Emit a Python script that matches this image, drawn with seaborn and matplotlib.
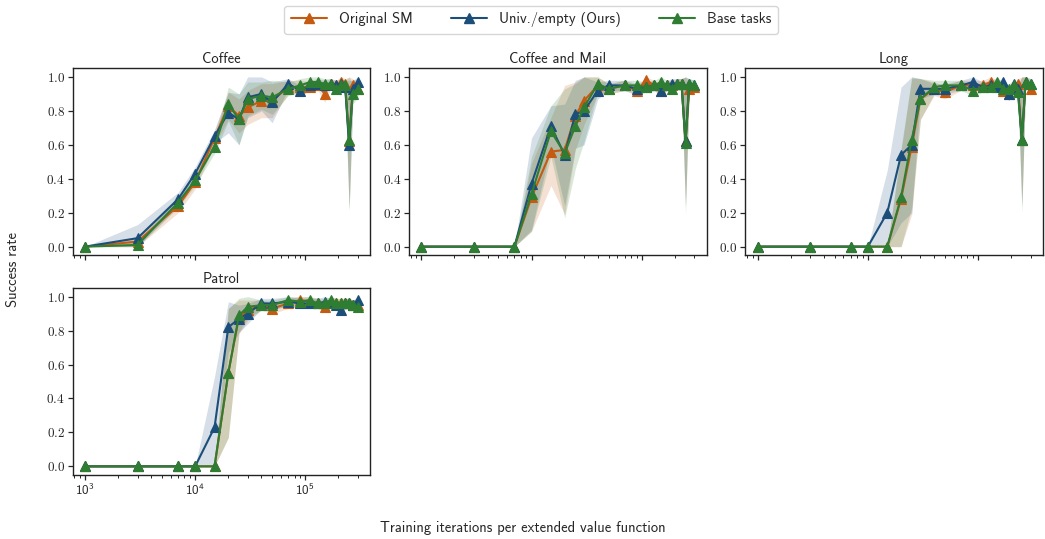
import numpy as np
import pandas as pd
import matplotlib
matplotlib.use("Agg")
import matplotlib.pyplot as plt
import seaborn as sns
from matplotlib.lines import Line2D

# ---------------- data ----------------
iters = [1000, 3000, 7000, 10000, 15000, 20000, 25000, 30000, 40000, 50000, 70000,
         90000, 110000, 130000, 150000, 170000, 190000, 210000, 230000, 250000, 270000, 300000]

methods = ["Original SM", "Univ./empty (Ours)", "Base tasks"]
panels = ["Coffee", "Coffee and Mail", "Long", "Patrol"]

# mean success rates
coffee_orig = [0, .03, .24, .38, .64, .83, .77, .82, .86, .86, .94, .94, .94, .95, .90, .96, .95, .97, .96, .62, .95, .93]
coffee_univ = [0, .05, .28, .43, .65, .79, .75, .88, .90, .85, .96, .92, .95, .96, .95, .96, .95, .96, .94, .60, .93, .97]
coffee_base = [0, .01, .26, .39, .59, .84, .75, .87, .89, .88, .93, .95, .97, .97, .96, .96, .93, .95, .95, .63, .90, .93]

mail_orig = [0, 0, 0, .29, .56, .57, .77, .86, .95, .93, .95, .92, .98, .95, .92, .95, .95, .96, .96, .62, .93, .94]
mail_univ = [0, 0, 0, .37, .71, .54, .78, .80, .92, .95, .95, .93, .94, .95, .92, .95, .96, .96, .96, .62, .96, .95]
mail_base = [0, 0, 0, .31, .68, .55, .71, .82, .96, .93, .95, .95, .94, .95, .97, .95, .93, .96, .96, .61, .96, .95]

long_orig = [0, 0, 0, 0, 0, .28, .59, .87, .93, .91, .95, .95, .95, .97, .95, .92, .90, .93, .96, .63, .97, .93]
long_univ = [0, 0, 0, 0, .20, .54, .60, .93, .93, .93, .95, .97, .94, .95, .94, .97, .90, .96, .93, .63, .97, .96]
long_base = [0, 0, 0, 0, 0, .29, .63, .87, .94, .95, .95, .92, .94, .94, .97, .93, .93, .95, .91, .63, .97, .96]

patrol_orig = [0, 0, 0, 0, 0, .55, .88, .92, .95, .93, .96, .98, .97, .96, .94, .97, .96, .96, .96, .96, .95, .95]
patrol_univ = [0, 0, 0, 0, .23, .82, .87, .90, .96, .96, .97, .96, .96, .96, .97, .96, .95, .92, .96, .96, .95, .98]
patrol_base = [0, 0, 0, 0, 0, .55, .89, .94, .95, .95, .98, .97, .98, .96, .96, .98, .96, .96, .96, .96, .95, .94]

# half-widths of the shaded confidence bands
coffee_orig_hw = [0, .03, .04, .04, .04, .08, .10, .10, .10, .10, .04, .04, .03, .03, .05, .03, .03, .03, .03, .40, .04, .04]
coffee_univ_hw = [0, .08, .04, .04, .04, .12, .15, .12, .10, .12, .03, .03, .03, .03, .03, .03, .03, .03, .04, .38, .05, .03]
coffee_base_hw = [0, .02, .03, .03, .04, .10, .15, .10, .08, .10, .04, .04, .03, .03, .03, .03, .03, .03, .03, .42, .06, .05]

mail_orig_hw = [0, 0, 0, .20, .20, .38, .20, .14, .05, .03, .03, .03, .03, .03, .03, .03, .03, .03, .03, .38, .03, .03]
mail_univ_hw = [0, 0, 0, .27, .12, .30, .20, .20, .05, .03, .03, .03, .03, .03, .03, .03, .03, .03, .03, .38, .03, .03]
mail_base_hw = [0, 0, 0, .22, .15, .38, .25, .20, .05, .03, .03, .03, .03, .03, .03, .03, .03, .03, .03, .42, .03, .03]

long_orig_hw = [0, 0, 0, 0, 0, .28, .40, .12, .04, .04, .03, .03, .03, .03, .03, .03, .04, .03, .03, .40, .03, .04]
long_univ_hw = [0, 0, 0, 0, .25, .40, .40, .06, .03, .03, .03, .03, .03, .03, .03, .03, .04, .03, .03, .38, .03, .03]
long_base_hw = [0, 0, 0, 0, 0, .29, .40, .12, .04, .03, .03, .03, .03, .03, .03, .03, .03, .03, .03, .43, .03, .03]

patrol_orig_hw = [0, 0, 0, 0, 0, .38, .10, .06, .03, .03, .03, .03, .03, .03, .03, .03, .03, .03, .03, .03, .03, .03]
patrol_univ_hw = [0, 0, 0, 0, .30, .15, .08, .06, .03, .03, .03, .03, .03, .03, .03, .03, .03, .03, .03, .03, .03, .03]
patrol_base_hw = [0, 0, 0, 0, 0, .38, .10, .06, .03, .03, .03, .03, .03, .03, .03, .03, .03, .03, .03, .03, .03, .03]

panel_means = {
    "Coffee": [coffee_orig, coffee_univ, coffee_base],
    "Coffee and Mail": [mail_orig, mail_univ, mail_base],
    "Long": [long_orig, long_univ, long_base],
    "Patrol": [patrol_orig, patrol_univ, patrol_base],
}
panel_hw = {
    "Coffee": [coffee_orig_hw, coffee_univ_hw, coffee_base_hw],
    "Coffee and Mail": [mail_orig_hw, mail_univ_hw, mail_base_hw],
    "Long": [long_orig_hw, long_univ_hw, long_base_hw],
    "Patrol": [patrol_orig_hw, patrol_univ_hw, patrol_base_hw],
}

rows = []
for p in panels:
    for m, mean, hw in zip(methods, panel_means[p], panel_hw[p]):
        for x, y, h in zip(iters, mean, hw):
            rows.append(dict(panel=p, method=m, iters=x, rate=y,
                             lo=max(0.0, y - h), hi=min(1.0, y + h)))
df = pd.DataFrame(rows)

colors = {"Original SM": "#c55a11", "Univ./empty (Ours)": "#1c4e7a", "Base tasks": "#2e7d32"}

# ---------------- style ----------------
sns.set_style("ticks")
plt.rcParams["font.family"] = ["cmss10", "DejaVu Sans"]
plt.rcParams["mathtext.fontset"] = "cm"
plt.rcParams["axes.unicode_minus"] = False
plt.rcParams["axes.linewidth"] = 1.0
plt.rcParams["axes.edgecolor"] = "#222222"

fig = plt.figure(figsize=(10.45, 5.39), dpi=100)
gs = fig.add_gridspec(2, 3, left=0.0694, right=0.998, top=0.873, bottom=0.119,
                      wspace=0.13, hspace=0.177)
positions = [(0, 0), (0, 1), (0, 2), (1, 0)]
axes = []
for p, (r, c) in zip(panels, positions):
    ax = fig.add_subplot(gs[r, c])
    axes.append(ax)
    sub = df[df.panel == p]
    for m in methods:
        s = sub[sub.method == m]
        ax.fill_between(s.iters, s.lo, s.hi, color=colors[m], alpha=0.18, linewidth=0)
    sns.lineplot(data=sub, x="iters", y="rate", hue="method", hue_order=methods,
                 palette=colors, marker="^", markersize=6.5, linewidth=1.5,
                 errorbar=None, legend=False, ax=ax)
    for ln in ax.lines:
        ln.set_markeredgecolor(ln.get_color())
        ln.set_markeredgewidth(0.8)
    ax.set_xscale("log")
    ax.set_xlim(771, 388000)
    ax.set_ylim(-0.05, 1.05)
    ax.set_yticks([0.0, 0.2, 0.4, 0.6, 0.8, 1.0])
    ax.set_yticklabels([f"${v:.1f}$" for v in [0.0, 0.2, 0.4, 0.6, 0.8, 1.0]])
    ax.set_title(p, fontsize=10.5, pad=4)
    ax.set_xlabel("")
    ax.set_ylabel("")
    ax.tick_params(axis="both", which="major", labelsize=9.5, length=3.5, width=0.9, pad=2)
    ax.tick_params(axis="both", which="minor", length=2, width=0.7)
    for sp in ax.spines.values():
        sp.set_visible(True)
    if r == 0:
        ax.tick_params(axis="x", which="both", labelbottom=False)

handles = [Line2D([0], [0], color=colors[m], marker="^", markersize=6.5, linewidth=1.5,
                  markeredgecolor=colors[m]) for m in methods]
fig.legend(handles, methods, loc="center", bbox_to_anchor=(0.508, 0.963), ncol=3,
           fontsize=10.5, frameon=True, columnspacing=2.6, handlelength=2.5,
           borderpad=0.45, fancybox=True)
fig.supxlabel("Training iterations per extended value function", fontsize=10.5, y=0.008)
fig.supylabel("Success rate", fontsize=10.5, x=0.006)

fig.savefig("out.png", dpi=100)
